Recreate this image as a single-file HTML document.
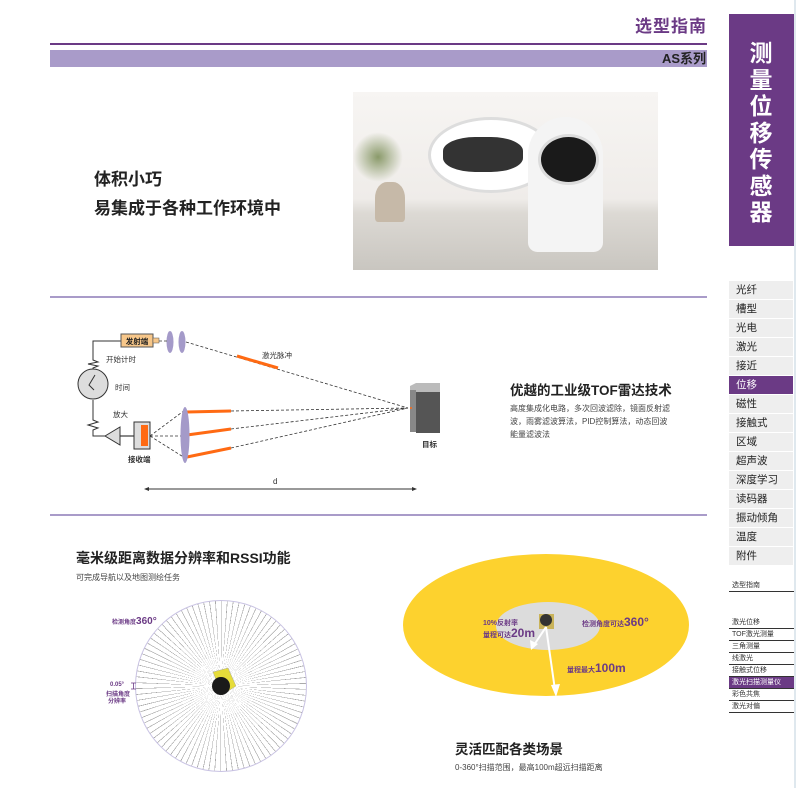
<!DOCTYPE html>
<html><head><meta charset="utf-8"><style>
html,body{margin:0;padding:0;background:#fff}
body{width:796px;height:788px;position:relative;overflow:hidden;font-family:"Liberation Sans","Noto Sans CJK SC",sans-serif}
.a{position:absolute}
.menu div{height:18px;line-height:18px;background:#eeeeee;margin-bottom:1px;font-size:10.5px;color:#222;padding-left:7px}
.menu div.on{background:#6b3a85;color:#fff}
.sm div{height:11px;line-height:11px;font-size:7px;color:#333;border-bottom:1px solid #333;padding-left:3px}
.radar{position:absolute;left:135px;top:600px;width:172px;height:172px;border-radius:50%;border:1px solid #c9c3e3;box-sizing:border-box;background:repeating-conic-gradient(#aaa 0deg 0.5deg,transparent 0.5deg 4deg)}
</style></head><body>
<div class="a" style="right:89px;top:12px;font-size:17px;font-weight:bold;color:#6b3a85;letter-spacing:1px">选型指南</div>
<div class="a" style="left:50px;top:43px;width:657px;height:2px;background:#6b3a85"></div>
<div class="a" style="left:50px;top:50px;width:657px;height:17px;background:#a99bc9"></div>
<div class="a" style="right:90px;top:50px;font-size:13px;font-weight:bold;color:#222;line-height:17px">AS系列</div>

<div class="a" style="left:729px;top:14px;width:65px;height:232px;background:#6b3a85"></div>
<div class="a" style="left:743px;top:40px;width:36px;font-size:23px;font-weight:bold;color:#fff;line-height:26.5px;text-align:center">测<br>量<br>位<br>移<br>传<br>感<br>器</div>
<div class="a" style="left:794px;top:0;width:2px;height:788px;background:#dfe8ee"></div>

<div class="a menu" style="left:729px;top:281px;width:64px">
<div>光纤</div><div>槽型</div><div>光电</div><div>激光</div><div>接近</div><div class="on">位移</div><div>磁性</div><div>接触式</div><div>区域</div><div>超声波</div><div>深度学习</div><div>读码器</div><div>振动倾角</div><div>温度</div><div>附件</div>
</div>
<div class="a sm" style="left:729px;top:580px;width:65px"><div>选型指南</div></div>
<div class="a sm" style="left:729px;top:617px;width:65px">
<div>激光位移</div><div>TOF激光测量</div><div>三角测量</div><div>线激光</div><div>接触式位移</div><div style="background:#6b3a85;color:#fff">激光扫描测量仪</div><div>彩色共焦</div><div>激光对偏</div>
</div>

<!-- photo -->
<div class="a" style="left:353px;top:92px;width:305px;height:178px;background:linear-gradient(#f7f5f3 0%,#efece9 60%,#dcd9d4 68%,#c9c6c0 100%);overflow:hidden">
 <div class="a" style="left:22px;top:90px;width:30px;height:40px;background:#c6b9a8;border-radius:40% 40% 10% 10%"></div>
 <div class="a" style="left:0;top:40px;width:50px;height:50px;border-radius:50%;background:radial-gradient(#8a9a6a,transparent 70%)"></div>
 <div class="a" style="left:75px;top:25px;width:120px;height:70px;border-radius:50%;background:#fff;border:3px solid #ddd"></div>
 <div class="a" style="left:90px;top:45px;width:80px;height:35px;border-radius:40%;background:#333"></div>
 <div class="a" style="left:175px;top:25px;width:75px;height:135px;border-radius:40px 40px 10px 10px;background:#f4f4f4"></div>
 <div class="a" style="left:185px;top:42px;width:55px;height:45px;border-radius:50%;background:#1a1a1a;border:3px solid #dcdcdc"></div>
</div>
<div class="a" style="left:94px;top:165px;font-size:17px;font-weight:bold;color:#222;line-height:29px">体积小巧<br>易集成于各种工作环境中</div>

<div class="a" style="left:50px;top:296px;width:657px;height:2px;background:#a99bc9"></div>
<div class="a" style="left:50px;top:514px;width:657px;height:2px;background:#a99bc9"></div>

<svg class="a" style="left:0;top:0" width="796" height="788" font-family="Liberation Sans,Noto Sans CJK SC,sans-serif">
 <g stroke="#333" fill="none" stroke-width="1">
  <polyline points="121,341 93,341 93,360 98,362 88,364 98,366 93,368 93,369"/>
  <polyline points="93,400 93,420 98,422 88,425 98,428 93,430 93,436 105,436"/>
  <line x1="120" y1="436" x2="134" y2="436" stroke="#888" stroke-width="2"/>
 </g>
 <circle cx="93" cy="384" r="15" fill="#ddd" stroke="#333"/>
 <polyline points="95,375 89,385 94,390" fill="none" stroke="#333"/>
 <polygon points="105,436 120,427 120,445" fill="#ddd" stroke="#333"/>
 <rect x="121" y="334" width="32" height="13" fill="#f7c78a" stroke="#555"/>
 <text x="137" y="344" font-size="7.5" font-weight="bold" text-anchor="middle" fill="#222">发射端</text>
 <rect x="153" y="338" width="6" height="5" fill="#f7c78a" stroke="#555" stroke-width=".5"/>
 <ellipse cx="170" cy="342" rx="3.5" ry="11" fill="#a49ac9"/>
 <ellipse cx="182" cy="342" rx="3.5" ry="11" fill="#a49ac9"/>
 <g stroke="#333" stroke-dasharray="3,2" fill="none" stroke-width=".8">
  <line x1="159" y1="341" x2="167" y2="341"/>
  <line x1="186" y1="342" x2="408" y2="408"/>
  <line x1="231" y1="411" x2="408" y2="408"/>
  <line x1="231" y1="429" x2="408" y2="408"/>
  <line x1="231" y1="448" x2="408" y2="408"/>
  <line x1="150" y1="436" x2="185" y2="410"/>
  <line x1="150" y1="436" x2="185" y2="436"/>
  <line x1="150" y1="436" x2="185" y2="458"/>
 </g>
 <g stroke="#ff6a13" stroke-width="3">
  <line x1="237" y1="356" x2="278" y2="368"/>
  <line x1="187" y1="412" x2="231" y2="411"/>
  <line x1="187" y1="435" x2="231" y2="429"/>
  <line x1="187" y1="457" x2="231" y2="448"/>
 </g>
 <ellipse cx="185" cy="435" rx="4.5" ry="28" fill="#a49ac9"/>
 <rect x="134" y="422" width="16" height="27" fill="#ddd" stroke="#333"/>
 <rect x="141" y="425" width="7" height="21" fill="#ff6a13"/>
 <polygon points="410,386 416,383 440,383 440,392 416,392 410,395" fill="#bbb"/>
 <rect x="410" y="390" width="6" height="42" fill="#888"/>
 <rect x="416" y="392" width="24" height="41" fill="#555"/>
 <circle cx="411" cy="408" r="1" fill="#ff6a13"/>
 <g font-size="7.5" fill="#333">
  <text x="106" y="362">开始计时</text>
  <text x="115" y="390">时间</text>
  <text x="113" y="417">放大</text>
  <text x="262" y="358">激光脉冲</text>
  <text x="128" y="462" font-weight="bold">接收端</text>
  <text x="422" y="447" font-weight="bold">目标</text>
  <text x="273" y="484" font-size="8">d</text>
 </g>
 <line x1="146" y1="489" x2="415" y2="489" stroke="#333"/>
 <polygon points="144,489 149,487 149,491" fill="#333"/><polygon points="417,489 412,487 412,491" fill="#333"/>
 <text x="510" y="395" font-size="13.5" font-weight="bold" fill="#222">优越的工业级TOF雷达技术</text>
 <g font-size="8" fill="#444">
  <text x="510" y="411">高度集成化电路，多次回波滤除，镜面反射滤</text>
  <text x="510" y="424">波，雨雾滤波算法，PID控制算法，动态回波</text>
  <text x="510" y="437">能量滤波法</text>
 </g>
 <text x="76" y="563" font-size="14" font-weight="bold" fill="#222">毫米级距离数据分辨率和RSSI功能</text>
 <text x="76" y="580" font-size="8" fill="#444">可完成导航以及地图测绘任务</text>

 <ellipse cx="546" cy="625" rx="143" ry="71" fill="#fdd22e"/>
 <ellipse cx="548" cy="626" rx="52" ry="24" fill="#dcdcdc"/>
 <rect x="539" y="614" width="15" height="15" fill="#c9b35a"/>
 <circle cx="546" cy="620" r="6" fill="#333"/>
 <g stroke="#fff" stroke-width="2" fill="none">
  <line x1="546" y1="627" x2="534" y2="645"/>
  <line x1="546" y1="627" x2="555" y2="690"/>
 </g>
 <polygon points="531,650 530,640 538,644" fill="#fff"/>
 <polygon points="556,697 551,685 560,684" fill="#fff"/>
 <g fill="#6b3a85" font-weight="bold">
  <text x="483" y="625" font-size="7">10%反射率</text>
  <text x="483" y="637" font-size="7">量程可达<tspan font-size="12">20m</tspan></text>
  <text x="582" y="626" font-size="7">检测角度可达<tspan font-size="12">360°</tspan></text>
  <text x="567" y="672" font-size="7">量程最大<tspan font-size="12">100m</tspan></text>
 </g>
 <text x="455" y="754" font-size="13.5" font-weight="bold" fill="#222">灵活匹配各类场景</text>
 <text x="455" y="770" font-size="8" fill="#444">0-360°扫描范围，最高100m超远扫描距离</text>
</svg>

<div class="radar"></div>
<svg class="a" style="left:0;top:0" width="796" height="788" font-family="Liberation Sans,Noto Sans CJK SC,sans-serif">
 <circle cx="221" cy="686" r="30" fill="#fff" opacity=".3"/>
 <polygon points="213,672 228,668 236,686 222,695" fill="#e6dc3a" stroke="#aa9" stroke-width=".5"/>
 <circle cx="221" cy="686" r="9" fill="#1a1a1a"/>
 <g fill="#6b3a85" font-weight="bold">
  <text x="112" y="624" font-size="6">检测角度<tspan font-size="10">360°</tspan></text>
  <text x="110" y="686" font-size="6">0.05°</text>
  <text x="106" y="696" font-size="6">扫描角度</text>
  <text x="108" y="703" font-size="6">分辨率</text>
 </g>
 <path d="M131,683 h5 M133.5,683 v6 M131,689 h5" stroke="#6b3a85" stroke-width=".8" fill="none"/>
</svg>
</body></html>
